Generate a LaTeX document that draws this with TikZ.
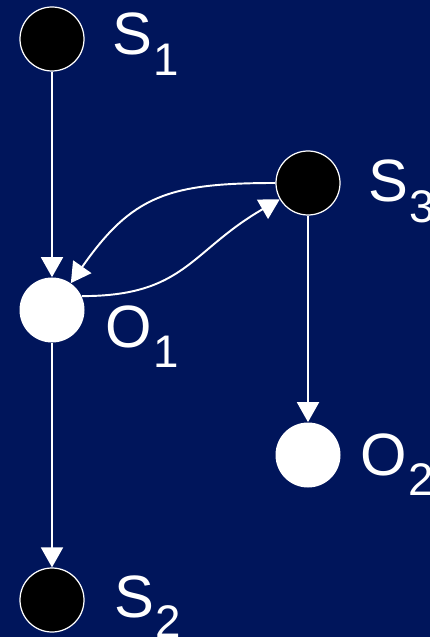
\documentclass[tikz,border=0pt]{standalone}
\usepackage{fontspec}
\setmainfont{Liberation Sans}
\usetikzlibrary{positioning,arrows.meta}
\definecolor{navybg}{RGB}{0,21,91}

\newcommand{\statelbl}[2]{#1\hspace{0.03cm}\raisebox{-0.41cm}{\fontsize{26}{26}\selectfont #2}}

\begin{document}
\begin{tikzpicture}[
    state/.style={
        circle,
        draw=white,
        line width=0.7pt,
        fill=black,
        minimum size=1.28cm,
        inner sep=0pt
    },
    obs/.style={
        circle,
        fill=white,
        minimum size=1.3cm,
        inner sep=0pt
    },
    lbl/.style={
        anchor=base west,
        text=white,
        inner sep=0pt,
        font=\fontsize{34}{34}\selectfont
    },
    arr/.style={
        -{Triangle[length=0.4cm,width=0.44cm]},
        draw=white,
        line width=1.1pt
    }
]

\fill[navybg] (0,0) rectangle (8.6,-12.74);
\useasboundingbox (0,0) rectangle (8.6,-12.74);

% ============================================================
% Left column
% ============================================================

\node[state] (s1) at (1.04,-0.78) {};
\node[lbl] (ls1) at (2.24,-1.10) {\statelbl{S}{1}};

\node[obs] (o1) at (1.04,-6.20) {};
\node[lbl] (lo1) at (2.10,-6.94) {\statelbl{O}{1}};

\node[state] (s2) at (1.04,-12.00) {};
\node[lbl] (ls2) at (2.28,-12.34) {\statelbl{S}{2}};

\draw[arr] (s1) -- (o1);
\draw[arr] (o1) -- (s2);


% ============================================================
% Right column
% ============================================================

\node[state] (s3) at (6.16,-3.66) {};
\node[lbl] (ls3) at (7.36,-4.04) {\statelbl{S}{3}};

\node[obs] (o2) at (6.16,-9.10) {};
\node[lbl] (lo2) at (7.20,-9.50) {\statelbl{O}{2}};

\draw[arr] (s3) -- (o2);

\draw[arr] (s3.west) to[out=180,in=55,looseness=1.2] (o1);
\draw[arr] (o1.25) to[out=0,in=210,looseness=1.2] (s3);

\end{tikzpicture}
\end{document}
